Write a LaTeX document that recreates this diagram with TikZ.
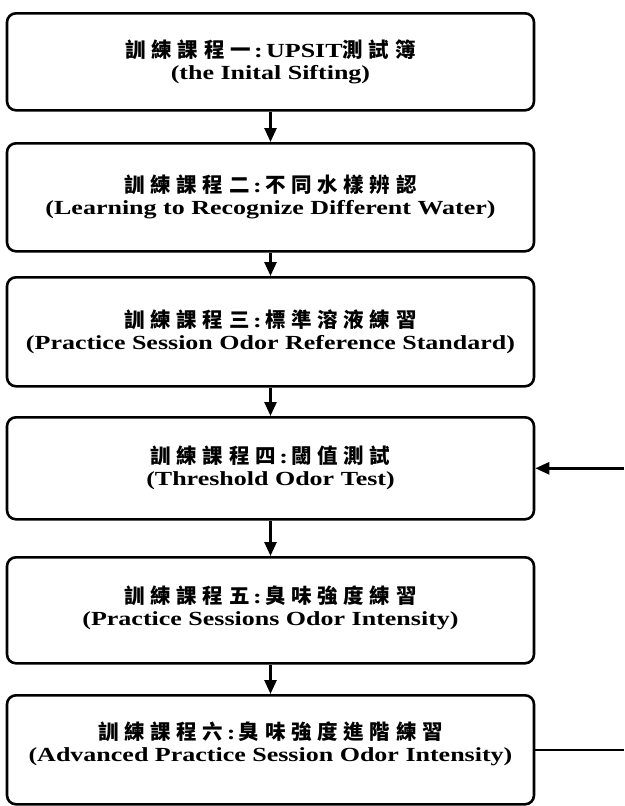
\documentclass[tikz,border=0pt]{standalone}
\usepackage{fontspec}
\setmainfont{Liberation Serif}[FakeStretch=1.3]
\newfontfamily\cjk{Noto Sans CJK TC}[LetterSpace=28]
\usetikzlibrary{arrows.meta}
\begin{document}
\begin{tikzpicture}[x=1pt,y=-1pt,
  box/.style={draw, line width=2.6pt, rounded corners=9pt, minimum width=527pt, inner sep=0pt, anchor=north},
  lbl/.style={align=center, font=\bfseries\fontsize{20}{22}\selectfont, inner sep=0pt},
  conn/.style={line width=2.6pt, -{Triangle[length=14pt,width=12pt]}},
  plain/.style={line width=2.6pt}]
\useasboundingbox (0,0) rectangle (624,806);
\node[box, minimum height=97pt]  (b1) at (270.5,12) {};
\node[box, minimum height=108pt] (b2) at (270.5,142) {};
\node[box, minimum height=109pt] (b3) at (270.5,276) {};
\node[box, minimum height=102pt] (b4) at (270.5,416) {};
\node[box, minimum height=106pt] (b5) at (270.5,556) {};
\node[box, minimum height=109pt] (b6) at (270.5,694) {};
\newcommand\zh[1]{{\cjk\fontsize{20.5}{22}\selectfont #1}}
\node[lbl] (t1) at (b1.center) {\zh{訓練課程一}\,:\,UPSIT\zh{測試簿}\\(the Inital Sifting)};
\node[lbl] (t2) at (b2.center) {\zh{訓練課程二}\,:\,\zh{不同水樣辨認}\\(Learning to Recognize Different Water)};
\node[lbl] (t3) at (b3.center) {\zh{訓練課程三}\,:\,\zh{標準溶液練習}\\(Practice Session Odor Reference Standard)};
\node[lbl] (t4) at (b4.center) {\zh{訓練課程四}\,:\,\zh{閾值測試}\\(Threshold Odor Test)};
\node[lbl] (t5) at ([yshift=3pt]b5.center) {\zh{訓練課程五}\,:\,\zh{臭味強度練習}\\(Practice Sessions Odor Intensity)};
\node[lbl] (t6) at ([yshift=6pt]b6.center) {\zh{訓練課程六}\,:\,\zh{臭味強度進階練習}\\(Advanced Practice Session Odor Intensity)};
\draw[conn] (b1) -- (b2);
\draw[conn] (b2) -- (b3);
\draw[conn] (b3) -- (b4);
\draw[conn] (b4) -- (b5);
\draw[conn] (b5) -- (b6);
\coordinate (r4) at (624,0 |- b4.east);
\coordinate (r6) at (624,0 |- b6.east);
\draw[conn] (r4) -- (b4.east);
\draw[plain] (b6.east) -- (r6);
\end{tikzpicture}
\end{document}
